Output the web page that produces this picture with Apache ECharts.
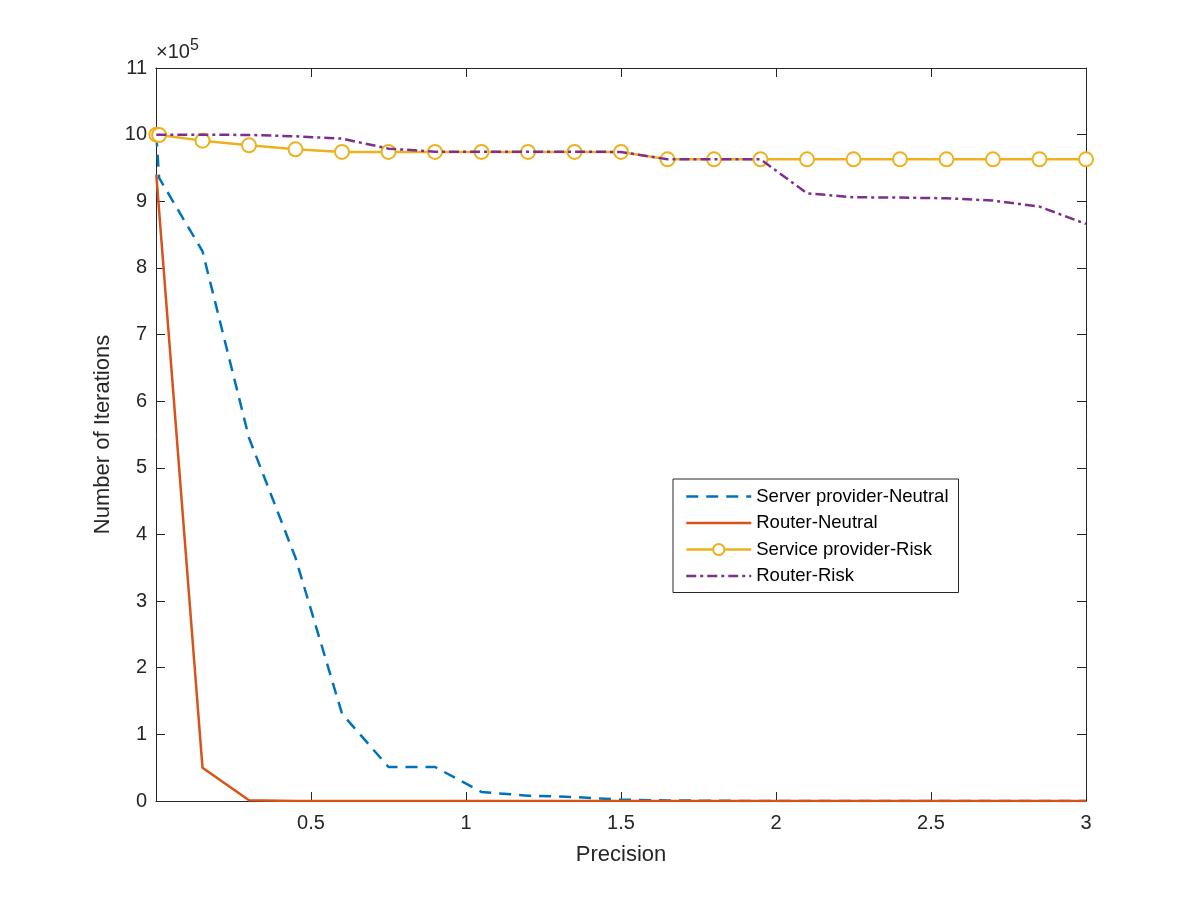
<!DOCTYPE html>
<html lang="en" style="height: 100%">
<head>
  <meta charset="UTF-8" />
  <title>Number of Iterations vs Precision</title>
  <script src="https://cdn.jsdelivr.net/npm/echarts/dist/echarts.min.js"></script>
</head>
<body style="height: 100%; margin: 0; background: #fff">
  <div id="container" style="width: 1200px; height: 900px"></div>
  <script type="text/javascript">
    // x values (precision)
    var precision = [0.001, 0.01, 0.15, 0.3, 0.45, 0.6, 0.75, 0.9, 1.05, 1.2, 1.35, 1.5,
      1.65, 1.8, 1.95, 2.1, 2.25, 2.4, 2.55, 2.7, 2.85, 3.0];

    // number of iterations for each series
    var serverNeutral = [1000000, 935000, 825000, 545000, 365000, 131000, 51000, 51000, 13500, 8000, 6000, 2000,
      800, 400, 0, 0, 0, 0, 0, 0, 0, 0];
    var routerNeutral = [940000, 886000, 50000, 1000, 0, 0, 0, 0, 0, 0, 0, 0,
      0, 0, 0, 0, 0, 0, 0, 0, 0, 0];
    var serviceRisk = [1000000, 999500, 991000, 984000, 978000, 974000, 974000, 974000, 974000, 974000, 974000, 974000,
      963000, 963000, 963000, 963000, 963000, 963000, 963000, 963000, 963000, 963000];
    var routerRisk = [1000000, 1000000, 1000000, 999500, 997500, 994000, 979000, 974500, 974500, 974500, 974500, 974000,
      963000, 963000, 963000, 912000, 906000, 905500, 904500, 901000, 892000, 866000];

    var seriesNames = ["Server provider-Neutral", "Router-Neutral", "Service provider-Risk", "Router-Risk"];
    var xTicks = [0.5, 1, 1.5, 2, 2.5, 3];

    function pairs(ys) {
      return precision.map(function (x, i) { return [x, ys[i]]; });
    }

    var dom = document.getElementById("container");
    var myChart = echarts.init(dom, null, { renderer: "canvas" });

    var axisColor = "#262626";
    var font = "'Liberation Sans', Arial, Helvetica, sans-serif";

    // axis used for the box around the plot (ticks inside, no labels)
    function boxAxis(pos, isX) {
      return {
        type: "value",
        position: pos,
        min: 0,
        max: isX ? 3 : 1100000,
        interval: isX ? 0.5 : 100000,
        axisLine: { show: true, onZero: false, lineStyle: { color: axisColor, width: 1 } },
        axisTick: { show: true, inside: true, length: 9, lineStyle: { color: axisColor } },
        axisLabel: { show: false },
        splitLine: { show: false }
      };
    }

    var xBottom = boxAxis("bottom", true);
    xBottom.name = "Precision";
    xBottom.nameLocation = "middle";
    xBottom.nameGap = 43;
    xBottom.nameTextStyle = { color: axisColor, fontSize: 22, fontFamily: font };
    xBottom.axisLabel = {
      show: true, margin: 12, color: axisColor, fontSize: 20, fontFamily: font,
      formatter: function (v) { return xTicks.indexOf(v) >= 0 ? String(v) : ""; }
    };

    var yLeft = boxAxis("left", false);
    yLeft.name = "Number of Iterations";
    yLeft.nameLocation = "middle";
    yLeft.nameGap = 42;
    yLeft.nameTextStyle = { color: axisColor, fontSize: 22, fontFamily: font };
    yLeft.axisLabel = {
      show: true, margin: 9, color: axisColor, fontSize: 20, fontFamily: font,
      formatter: function (v) { return String(Math.round(v / 100000)); }
    };

    // legend entries: hide the marker for plain-line series
    var legendData = seriesNames.map(function (n, i) {
      return i === 2 ? { name: n } : { name: n, itemStyle: { opacity: 0 } };
    });

    var option = {
      animation: false,
      backgroundColor: "#fff",
      grid: { left: 156, right: 114, top: 68, bottom: 99, containLabel: false },
      xAxis: [xBottom, boxAxis("top", true)],
      yAxis: [yLeft, boxAxis("right", false)],
      legend: {
        orient: "vertical",
        left: 673,
        top: 479,
        padding: [8, 10, 7, 12],
        itemWidth: 65,
        itemHeight: 14,
        itemGap: 7.5,
        backgroundColor: "#fff",
        borderColor: axisColor,
        borderWidth: 1,
        borderRadius: 0,
        lineStyle: { width: 2.5 },
        textStyle: { color: "#000", fontSize: 18.5, fontFamily: font },
        data: legendData
      },
      // exponent label at top of y axis
      graphic: [{
        type: "text",
        left: 156,
        top: 38,
        style: {
          text: "×10{sup|5}",
          fill: axisColor,
          font: "20px " + font,
          rich: {
            sup: { fontSize: 16, fontFamily: font, fill: axisColor, padding: [0, 0, 12, 0] }
          }
        }
      }],
      series: [
        {
          name: seriesNames[0],
          type: "line",
          data: pairs(serverNeutral),
          symbol: "none",
          color: "#0072BD",
          lineStyle: { width: 2.5, type: [12, 8], color: "#0072BD" },
          z: 2
        },
        {
          name: seriesNames[1],
          type: "line",
          data: pairs(routerNeutral),
          symbol: "none",
          color: "#D95319",
          lineStyle: { width: 2.5, type: "solid", color: "#D95319" },
          z: 3
        },
        {
          name: seriesNames[2],
          type: "line",
          data: pairs(serviceRisk),
          symbol: "emptyCircle",
          symbolSize: 14,
          showAllSymbol: true,
          color: "#EDB120",
          itemStyle: { color: "#EDB120", borderColor: "#EDB120", borderWidth: 2.5 },
          lineStyle: { width: 2.5, type: "solid", color: "#EDB120" },
          z: 4
        },
        {
          name: seriesNames[3],
          type: "line",
          data: pairs(routerRisk),
          symbol: "none",
          color: "#7E2F8E",
          lineStyle: { width: 2.5, type: [10, 4, 3, 4], color: "#7E2F8E" },
          z: 5
        }
      ]
    };

    myChart.setOption(option);
  </script>
</body>
</html>
